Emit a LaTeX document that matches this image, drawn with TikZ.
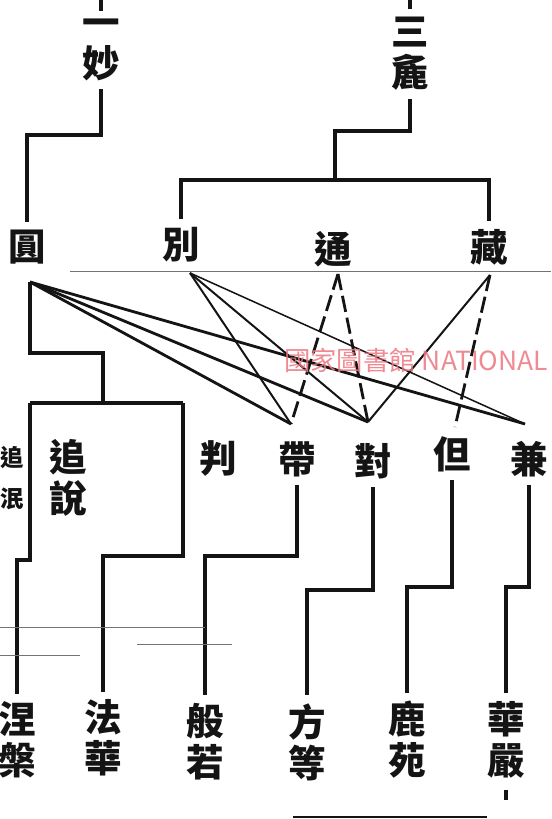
\documentclass[tikz,border=0pt]{standalone}
\usepackage{fontspec}
\newfontfamily\cjk{Noto Sans CJK TC}
\usetikzlibrary{calc}
\usetikzlibrary{math}

\definecolor{ink}{RGB}{20,20,20}
\definecolor{stamp}{RGB}{236,118,128}

\tikzset{
    word/.style={font=\cjk\bfseries\fontsize{32}{35}\selectfont, text=ink,
        inner sep=0pt, outer ysep=7pt, align=center},
    smallword/.style={word, font=\cjk\bfseries\fontsize{20}{35}\selectfont},
    trunk/.style={ink, line width=2.8pt},
    crossheavy/.style={ink, line width=2.4pt},
    crossmid/.style={ink, line width=1.7pt},
    crosslight/.style={ink, line width=1.3pt},
    crossdash/.style={ink, line width=2.4pt, dash pattern=on 14pt off 5pt},
    scanline/.style={black!55, line width=0.6pt}
}

\begin{document}
\begin{tikzpicture}[x=0.03cm, y=-0.03cm]

\useasboundingbox (0,0) rectangle (551,819);
\fill[white] (0,0) rectangle (551,819);

% Rows of the table
\tikzmath{
    \rowA = 247;
    \rowB = 459;
    \rowC = 740;
}

% One wonderful and three coarse
\node[word] (yimiao) at (101,50) {一\\妙};
\node[word] (sancu) at (410,54) {三\\麁};

% Four teachings
\node[word] (yuan) at (27,\rowA) {圓};
\node[word] (bie) at (181,\rowA-2) {別};
\node[word] (tong) at (333,\rowA+2) {通};
\node[word] (zang) at (489,\rowA) {藏};

% Four ways of mixing
\node[smallword] (zhuimin) at (12,478) {追\\泯};
\node[word] (zhuishuo) at (68,478) {追\\說};
\node[word] (pan) at (218,\rowB) {判};
\node[word] (dai) at (297,\rowB) {帶};
\node[word] (dui) at (373,\rowB+2) {對};
\node[word] (dan) at (452,\rowB-5) {但};
\node[word] (jian) at (529,\rowB) {兼};

% Five periods
\node[word] (niepan) at (17,\rowC) {涅\\槃};
\node[word] (fahua) at (103,\rowC-2) {法\\華};
\node[word] (bore) at (205,\rowC+2) {般\\若};
\node[word] (fangdeng) at (307,\rowC+2) {方\\等};
\node[word] (luyuan) at (407,\rowC) {鹿\\苑};
\node[word] (huayan) at (506,\rowC) {華\\嚴};

% Points where the crossing lines meet
\coordinate (yuan-x) at ($(yuan)+(3,35)$);
\coordinate (bie-x) at ($(bie)+(9,28)$);
\coordinate (tong-x) at ($(tong)+(5,25)$);
\coordinate (zang-x) at ($(zang)+(1,28)$);
\coordinate (dai-x) at ($(dai)+(-6,-35)$);
\coordinate (dui-x) at ($(dui)+(-5,-39)$);
\coordinate (dan-x) at ($(dan)+(3,-27)$);
\coordinate (jian-x) at ($(jian)+(-4,-35)$);

% Draws the upper trees
\draw[trunk] (yimiao.north) -- ++(0,-40);
\draw[trunk] (yimiao.south) |- (60,135) -| (yuan.north);
\draw[trunk] (sancu.north) -- ++(0,-40);
\coordinate (knot) at (335,180);
\draw[trunk] (sancu.south) |- (370,131) -| (knot);
\draw[trunk] (bie.north) |- (knot) -| (zang.north);

% Draws the box round the later sermon
\coordinate (boxtl) at (30,403);
\coordinate (boxtr) at (183,403);
\draw[trunk] (yuan-x) |- (103,353) -- (103,403);
\draw[trunk] (boxtl) -- (boxtr);
\draw[trunk] (boxtl) -- ++(0,157) -| (niepan.north);
\draw[trunk] (boxtr) -- ++(0,153) -| (fahua.north);

% Draws the lower steps
\draw[trunk] (dai.south) |- (250,556) -| (bore.north);
\draw[trunk] (dui.south) |- (340,590) -| (fangdeng.north);
\draw[trunk] (dan.south) |- (430,587) -| (luyuan.north);
\draw[trunk] (jian.south) |- (515,587) -| (huayan.north);
\draw[trunk] (huayan.south) ++(0,3) -- ++(0,10);

% Draws the crossing lines
\foreach \a/\b/\s in {yuan/dai/crossheavy, yuan/dui/crossheavy,
    yuan/jian/crossheavy, bie/dai/crossmid, bie/dui/crossmid,
    bie/jian/crosslight, tong/dai/crossdash, tong/dui/crossdash,
    zang/dui/crossmid, zang/dan/crossdash} {
    \draw[\s] (\a-x) -- (\b-x);
}

% Lines of the scan
\draw[scanline] (70,271) -- (551,271);
\draw[scanline] (0,627) -- (205,627);
\draw[scanline] (137,644) -- (232,644);
\draw[scanline] (0,655) -- (80,655);
\draw[ink, line width=2pt] (293,817) -- (487,817);

% Library stamp
\node[font=\cjk\fontsize{22.5}{22.5}\selectfont, text=stamp, opacity=0.85,
    anchor=west, inner sep=0pt] (stamp) at (284,360) {國家圖書館 NATIONAL};

\end{tikzpicture}
\end{document}
